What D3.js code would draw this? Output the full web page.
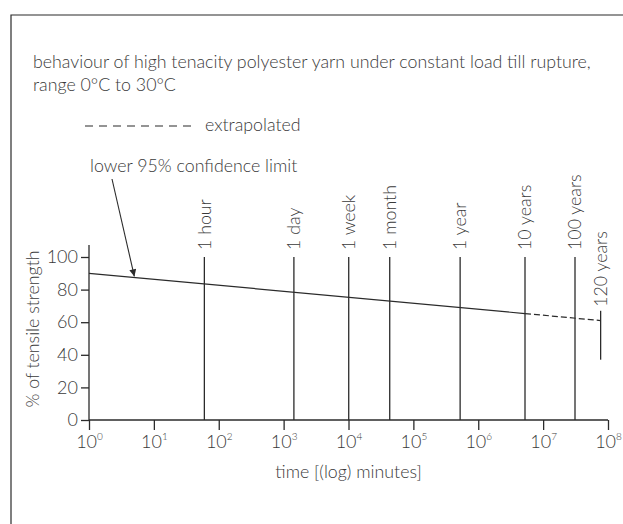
<!DOCTYPE html>
<html>
<head>
<meta charset="utf-8">
<script src="https://cdn.jsdelivr.net/npm/d3@7"></script>
<style>
  html, body { margin: 0; padding: 0; background: #fff; }
  svg { display: block; }
  text { font-family: "Lato", "Open Sans", sans-serif; font-weight: 300; fill: #3a3a3a; }
</style>
</head>
<body>
<script>
// ---- data ----
const titleLines = ["behaviour of high tenacity polyester yarn under constant load till rupture,", "range 0°C to 30°C"];
const legendLabel = "extrapolated";
const annotationLabel = "lower 95% confidence limit";
const xLabel = "time [(log) minutes]";
const yLabel = "% of tensile strength";
const xTickExponents = [0, 1, 2, 3, 4, 5, 6, 7, 8];
const yTicks = [0, 20, 40, 60, 80, 100];
const markerLabels = ["1 hour", "1 day", "1 week", "1 month", "1 year", "10 years", "100 years"];
const markerMinutes = [60, 1440, 10080, 43200, 525600, 5256000, 31000000];
const markerTop = 100;
const endLabel = "120 years";
const endMinutes = 77000000;
const endRange = [37, 67];
const measuredMinutes = [1, 5256000];
const measuredValues = [90, 65.3];
const extrapMinutes = [5256000, 77000000];
const extrapValues = [65.3, 61];
const arrowTarget = [5, 87.5];

// ---- layout ----
const W = 623, H = 524;
const FS = 17.8;
const svg = d3.select("body").append("svg").attr("width", W).attr("height", H);

const x = d3.scaleLog().domain([1, 1e8]).range([89, 608]);
const y = d3.scaleLinear().domain([0, 100]).range([420, 257]);
const ink = "#2b2b2b";

// frame (top + left visible)
svg.append("path").attr("d", `M11,${H} L11,15 L${W},15`).attr("fill", "none").attr("stroke", ink).attr("stroke-width", 1.2);

// title
svg.append("g").selectAll("text").data(titleLines).join("text")
  .attr("x", 33).attr("y", (d, i) => 68 + i * 23)
  .attr("font-size", FS).text(d => d);

// legend
svg.append("line").attr("x1", 85).attr("x2", 191).attr("y1", 126).attr("y2", 126)
  .attr("stroke", ink).attr("stroke-width", 1.1).attr("stroke-dasharray", "8,6");
svg.append("text").attr("x", 205).attr("y", 131).attr("font-size", FS).text(legendLabel);

// annotation
svg.append("text").attr("x", 90).attr("y", 172).attr("font-size", FS).text(annotationLabel);
svg.append("defs").append("marker").attr("id", "arr").attr("viewBox", "0 0 10 10")
  .attr("refX", 10).attr("refY", 5).attr("markerWidth", 13).attr("markerHeight", 7)
  .attr("markerUnits", "userSpaceOnUse").attr("orient", "auto")
  .append("path").attr("d", "M0,0 L10,5 L0,10 Z").attr("fill", ink);
svg.append("line").attr("x1", 112).attr("y1", 179)
  .attr("x2", x(arrowTarget[0])).attr("y2", y(arrowTarget[1]) - 1)
  .attr("stroke", ink).attr("stroke-width", 1.1).attr("marker-end", "url(#arr)");

// marker lines
const mk = svg.append("g");
markerMinutes.forEach((m, i) => {
  mk.append("line").attr("x1", x(m)).attr("x2", x(m)).attr("y1", y(0)).attr("y2", y(markerTop))
    .attr("stroke", ink).attr("stroke-width", 1.3);
  mk.append("text").attr("transform", `translate(${x(m)},${y(markerTop) - 7}) rotate(-90)`)
    .attr("dy", "0.35em").attr("font-size", FS).text(markerLabels[i]);
});
mk.append("line").attr("x1", x(endMinutes)).attr("x2", x(endMinutes))
  .attr("y1", y(endRange[0])).attr("y2", y(endRange[1]))
  .attr("stroke", ink).attr("stroke-width", 1.3);
mk.append("text").attr("transform", `translate(${x(endMinutes)},${y(endRange[1]) - 4}) rotate(-90)`)
  .attr("dy", "0.35em").attr("font-size", FS).text(endLabel);

// confidence line
const line = d3.line().x(d => x(d[0])).y(d => y(d[1]));
svg.append("path").attr("d", line(d3.zip(measuredMinutes, measuredValues)))
  .attr("fill", "none").attr("stroke", ink).attr("stroke-width", 1.2);
svg.append("path").attr("d", line(d3.zip(extrapMinutes, extrapValues)))
  .attr("fill", "none").attr("stroke", ink).attr("stroke-width", 1.2).attr("stroke-dasharray", "6,3");

// y axis
const yAxis = svg.append("g").attr("transform", `translate(${x(1)},0)`)
  .call(d3.axisLeft(y).tickValues(yTicks).tickSize(8).tickPadding(3).tickFormat(d3.format("d")));
yAxis.select(".domain").attr("d", `M0,${y(0)} V245`);
yAxis.selectAll("line, .domain").attr("stroke", ink).attr("stroke-width", 1.3);
yAxis.selectAll("text").attr("font-size", 18).attr("font-family", "Lato, sans-serif").attr("fill", "#3a3a3a");

// x axis
const xAxis = svg.append("g").attr("transform", `translate(0,${y(0)})`)
  .call(d3.axisBottom(x).tickValues(xTickExponents.map(e => Math.pow(10, e))).tickSize(10).tickPadding(4).tickFormat(() => ""));
xAxis.select(".domain").attr("d", `M${x(1)},0 H${x(1e8)}`);
xAxis.selectAll("line, .domain").attr("stroke", ink).attr("stroke-width", 1.3);
xAxis.selectAll(".tick").each(function (d, i) {
  const t = d3.select(this).select("text").attr("font-size", 18).attr("y", 15).attr("dy", "0.71em")
    .attr("fill", "#3a3a3a").attr("text-anchor", "middle");
  t.append("tspan").text("10");
  t.append("tspan").attr("font-size", 10).attr("dy", "-0.75em").text(xTickExponents[i]);
});

// axis titles
svg.append("text").attr("x", (x(1) + x(1e8)) / 2).attr("y", 478).attr("text-anchor", "middle")
  .attr("font-size", FS).text(xLabel);
svg.append("text").attr("transform", `translate(33,329) rotate(-90)`)
  .attr("text-anchor", "middle").attr("dy", "0.35em").attr("font-size", FS).text(yLabel);
</script>
</body>
</html>
